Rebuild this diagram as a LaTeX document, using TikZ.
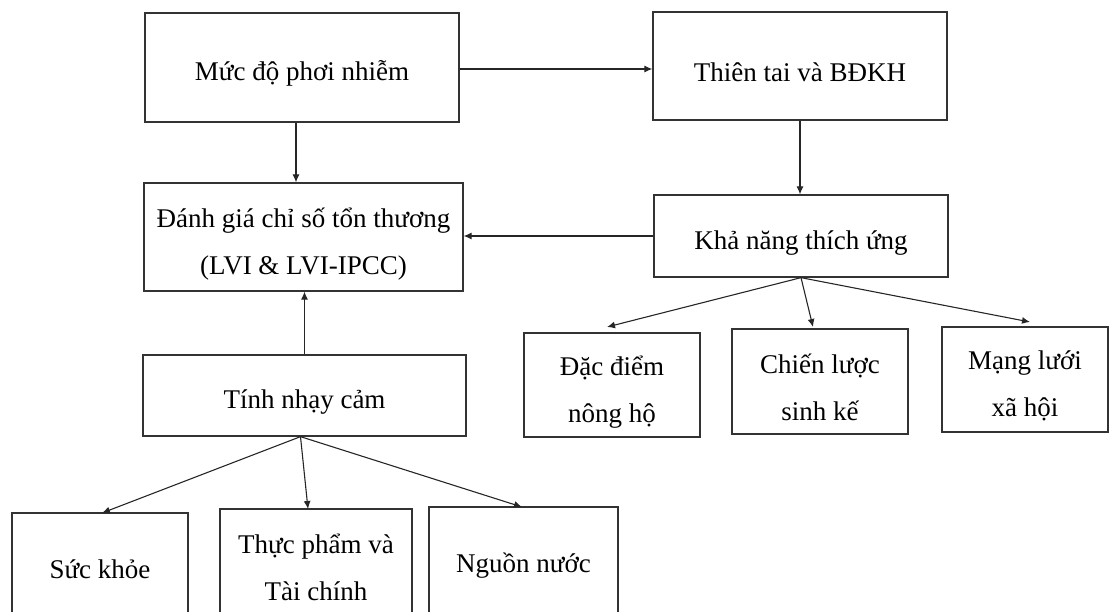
\documentclass[tikz,border=0pt]{standalone}
\usepackage{fontspec}
\setmainfont{Liberation Serif}
\usetikzlibrary{arrows.meta}
\begin{document}
\begin{tikzpicture}[x=1pt,y=-1pt,
  box/.style={draw=black!80, line width=1.3pt, rectangle, inner sep=0pt},
  txt/.style={inner sep=0pt, align=center, font=\fontsize{27}{47}\selectfont, text=black},
  arr/.style={draw=black!85, line width=1.1pt, -{Latex[length=8pt,width=7pt]}}]
\useasboundingbox (0,0) rectangle (1110,612);
\clip (0,0) rectangle (1110,612);
% boxes
\node[box, minimum width=314pt, minimum height=109pt] (b1) at (302,67.5) {};
\node[box, minimum width=294pt, minimum height=108pt] (b2) at (800,66) {};
\node[box, minimum width=319pt, minimum height=108pt] (b3) at (303.5,237) {};
\node[box, minimum width=294pt, minimum height=82pt] (b4) at (801,236) {};
\node[box, minimum width=323pt, minimum height=81pt] (b5) at (304.5,395.5) {};
\node[box, minimum width=176pt, minimum height=104pt] (b6) at (612,385) {};
\node[box, minimum width=176pt, minimum height=105pt] (b7) at (820,381.5) {};
\node[box, minimum width=166pt, minimum height=105pt] (b8) at (1025,379.5) {};
\node[box, minimum width=176pt, minimum height=107pt] (b9) at (100,566.5) {};
\node[box, minimum width=192pt, minimum height=115pt] (b10) at (316,566.5) {};
\node[box, minimum width=189pt, minimum height=112pt] (b11) at (523.5,563) {};
% texts
\node[txt] (l1) at ([yshift=-6pt]b1.center) {Mức độ phơi nhiễm};
\node[txt] (l2) at ([yshift=-6pt]b2.center) {Thiên tai và BĐKH};
\node[txt] (l3) at ([yshift=-7pt]b3.center) {Đánh giá chỉ số tổn thương\\(LVI \& LVI-IPCC)};
\node[txt] (l4) at ([yshift=-7pt]b4.center) {Khả năng thích ứng};
\node[txt] (l5) at ([yshift=-7pt]b5.center) {Tính nhạy cảm};
\node[txt] (l6) at ([yshift=-7pt]b6.center) {Đặc điểm\\nông hộ};
\node[txt] (l7) at ([yshift=-6pt]b7.center) {Chiến lược\\sinh kế};
\node[txt] (l8) at ([yshift=-6pt]b8.center) {Mạng lưới\\xã hội};
\node[txt] (l9) at ([yshift=-3pt]b9.center) {Sức khỏe};
\node[txt] (l10) at ([yshift=-1pt]b10.center) {Thực phẩm và\\Tài chính};
\node[txt] (l11) at ([yshift=-3pt]b11.center) {Nguồn nước};
% targets of fan arrows
\coordinate (t6) at (607,327);
\coordinate (t7) at (813,327);
\coordinate (t8) at (1030,322);
\coordinate (t9) at (102,513);
\coordinate (t10) at (308,509);
\coordinate (t11) at (522,507);
% connectors
\draw[arr] ([yshift=-1.5pt]b1.east) -- ([yshift=-1.5pt]b1.east -| b2.west);
\draw[arr] ([xshift=-6pt]b1.south) -- ([xshift=-6pt]b1.south |- b3.north);
\draw[arr] (b2.south) -- (b2.south |- b4.north);
\draw[arr] (b4.west) -- (b4.west -| b3.east);
\draw[arr] (b5.north) -- (b5.north |- b3.south);
\draw[arr] (b4.south) -- (t6);
\draw[arr] (b4.south) -- (t7);
\draw[arr] (b4.south) -- (t8);
\draw[arr] ([xshift=-4pt]b5.south) -- (t9);
\draw[arr] ([xshift=-4pt]b5.south) -- (t10);
\draw[arr] ([xshift=-4pt]b5.south) -- (t11);
\end{tikzpicture}
\end{document}
